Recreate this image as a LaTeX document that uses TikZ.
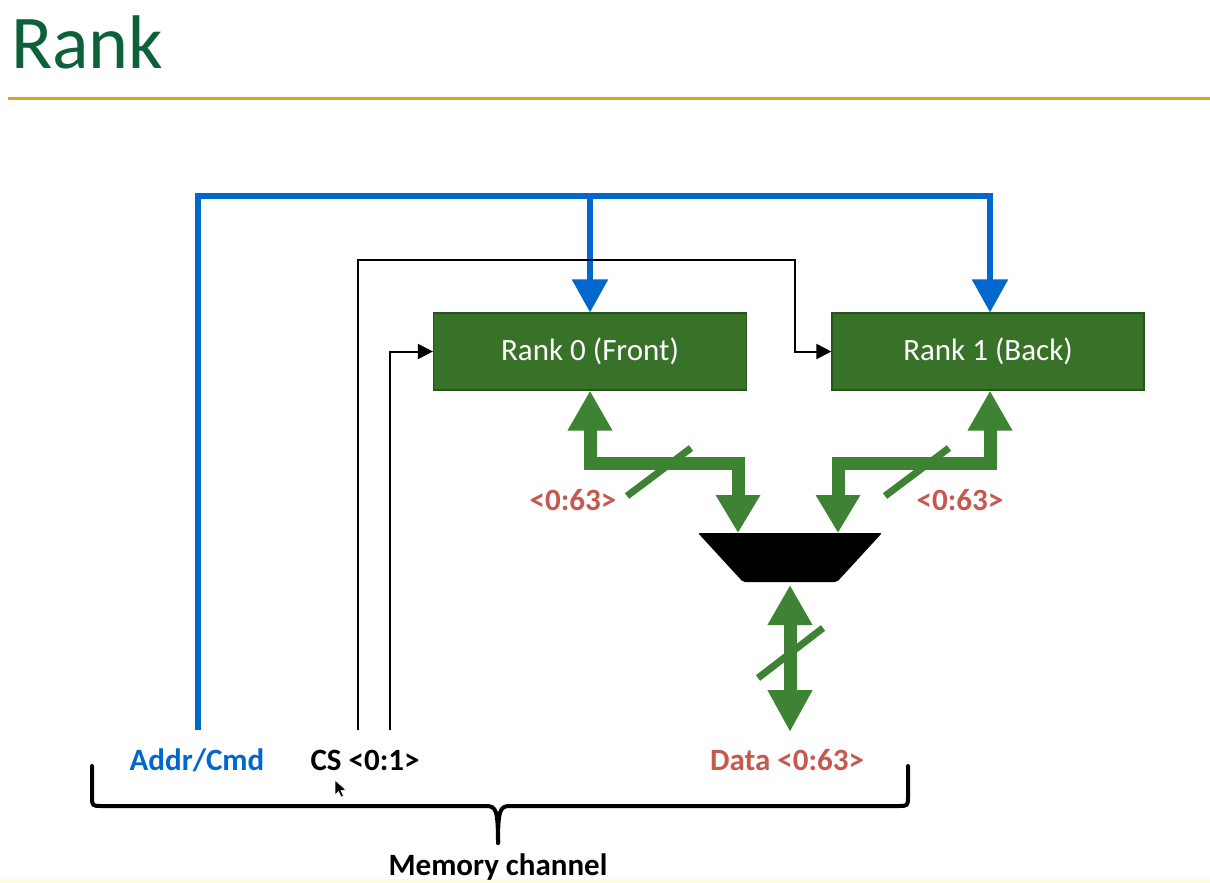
\documentclass[tikz,border=0pt]{standalone}
\usepackage{fontspec}
\setmainfont{Carlito}
\usetikzlibrary{arrows.meta}
\definecolor{titlegreen}{RGB}{12,96,58}
\definecolor{gold}{RGB}{216,166,36}
\definecolor{addrblue}{RGB}{0,104,204}
\definecolor{boxgreen}{RGB}{56,114,40}
\definecolor{boxedge}{RGB}{38,86,28}
\definecolor{busgreen}{RGB}{62,130,52}
\definecolor{labred}{RGB}{198,88,78}
\tikzset{
  rankbox/.style={rectangle, fill=boxgreen, draw=boxedge, line width=1.2pt,
    minimum width=313pt, minimum height=77pt, text=white, inner sep=0pt,
    font=\fontsize{31}{37}\selectfont},
  lab/.style={inner sep=0pt, font=\bfseries\fontsize{31}{37}\selectfont},
  addrline/.style={draw=addrblue, line width=5.5pt, line join=miter,
    -{Triangle[width=35pt,length=33pt]}},
  addrplain/.style={draw=addrblue, line width=5.5pt},
  sigline/.style={draw=black, line width=2pt, line join=miter,
    -{Triangle[width=15pt,length=15pt]}},
  busline/.style={draw=busgreen, line width=13pt, line join=miter,
    {Triangle[width=42pt,length=40pt]}-{Triangle[width=42pt,length=38pt]}},
  slashline/.style={draw=busgreen, line width=7pt},
  bracepath/.style={draw=black, line width=4pt, line cap=round, line join=round},
}
\begin{document}
\begin{tikzpicture}[x=1pt,y=-1pt]
\useasboundingbox (0,0) rectangle (1210,883);
\fill[white] (0,0) rectangle (1210,883);
\fill[yellow!12] (0,879) rectangle (1210,883);

% title
\node[anchor=base west, inner sep=0pt, text=titlegreen,
  font=\fontsize{76}{80}\selectfont] (title) at (11,68) {Rank};
\draw[gold, line width=3pt] (8,98) -- (1210,98);

% rank boxes
\node[rankbox] (r0) at (590,351.5) {Rank 0 (Front)};
\node[rankbox, minimum width=312pt] (r1) at (988,351.5) {Rank 1 (Back)};

% labels
\node[lab, text=addrblue, anchor=base] (addr) at (197,770) {Addr/Cmd};
\node[lab, anchor=base] (cs) at (365,770) {CS <0:1>};
\node[lab, text=labred, anchor=base] (data) at (787,770) {Data <0:63>};
\node[lab, anchor=base] (mem) at (498,875) {Memory channel};
\node[lab, text=labred, anchor=base] (w0) at (573,510) {<0:63>};
\node[lab, text=labred, anchor=base] (w1) at (960,510) {<0:63>};

% coordinates
\coordinate (aS) at (198,730);
\coordinate (aTop) at (590,196);
\coordinate (c1) at (358,730);
\coordinate (c1turn) at (795,260);
\coordinate (c2) at (390,730);
\coordinate (muxTL) at (698,533);
\coordinate (muxTR) at (882,533);
\coordinate (muxBR) at (837,582);
\coordinate (muxBL) at (743,582);
\coordinate (muxL) at (738,533);
\coordinate (muxR) at (838,533);
\coordinate (muxB) at (790,585);
\coordinate (dEnd) at (790,732);
\coordinate (jL) at (738,463);
\coordinate (jR) at (838,463);

% address/command bus
\draw[addrline] (aS) |- ([xshift=2pt]r1.north |- aTop) -- ([xshift=2pt]r1.north);
\draw[addrline] (r0.north |- aTop) -- (r0.north);

% chip selects
\draw[sigline] (c1) |- (c1turn) |- (r1.west);
\draw[sigline] (c2) |- (r0.west);

% mux
\fill[black, rounded corners=2pt] (muxTL) -- (muxTR) -- (muxBR) -- (muxBL) -- cycle;

% data buses
\draw[busline] (r0.south) |- (jL) -- (muxL);
\draw[busline] ([xshift=2pt]r1.south) |- (jR) -- (muxR);
\draw[busline, {Triangle[width=42pt,length=40pt]}-{Triangle[width=42pt,length=42pt]}] (muxB) -- (dEnd);

% width slashes
\draw[slashline] (627,496) -- (691,448);
\draw[slashline] (885,496) -- (949,448);
\draw[slashline] (758,678) -- (823,628);

% brace
\draw[bracepath] (92,766) -- (92,796) .. controls (92,806) .. (102,806)
  -- (486,806) .. controls (496,806) and (498,810) .. (498,843);
\draw[bracepath] (908,766) -- (908,796) .. controls (908,806) .. (898,806)
  -- (510,806) .. controls (500,806) and (498,810) .. (498,843);

% mouse pointer
\fill[black, draw=white, line width=0.6pt] (335,780) -- (335,795) -- (338.5,791.5)
  -- (341,797) -- (343.5,796) -- (341,790.5) -- (346,790) -- cycle;
\end{tikzpicture}
\end{document}
